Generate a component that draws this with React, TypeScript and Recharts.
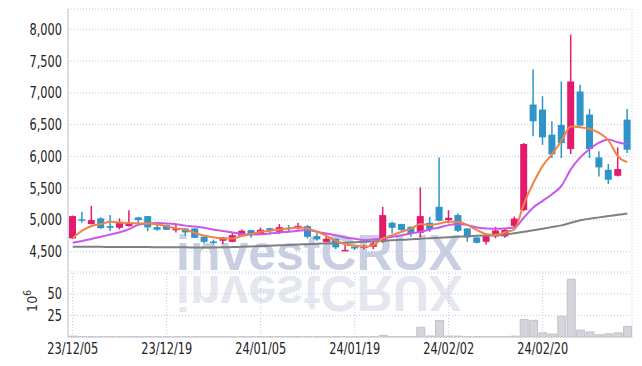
import React from "react";
import { ComposedChart, Bar, Line, XAxis, YAxis, CartesianGrid } from "recharts";

const dates = [
  "23/12/05", "23/12/06", "23/12/07", "23/12/08", "23/12/11", "23/12/12", "23/12/13", "23/12/14", "23/12/15", "23/12/18",
  "23/12/19", "23/12/20", "23/12/21", "23/12/22", "23/12/26", "23/12/27", "23/12/28", "24/01/02", "24/01/03", "24/01/04",
  "24/01/05", "24/01/08", "24/01/09", "24/01/10", "24/01/11", "24/01/12", "24/01/15", "24/01/16", "24/01/17", "24/01/18",
  "24/01/19", "24/01/22", "24/01/23", "24/01/24", "24/01/25", "24/01/26", "24/01/29", "24/01/30", "24/01/31", "24/02/01",
  "24/02/02", "24/02/05", "24/02/06", "24/02/07", "24/02/08", "24/02/13", "24/02/14", "24/02/15", "24/02/16", "24/02/19",
  "24/02/20", "24/02/21", "24/02/22", "24/02/23", "24/02/26", "24/02/27", "24/02/28", "24/02/29", "24/03/04", "24/03/05",
];

const tickDates = ["23/12/05", "23/12/19", "24/01/05", "24/01/19", "24/02/02", "24/02/20"];
const priceTicks = [4500, 5000, 5500, 6000, 6500, 7000, 7500, 8000];
const volumeTicks = [25, 50];

const opens = [
  4710, 5010, 4934, 5024, 4902, 4876, 4902, 5040, 5060, 4887,
  4918, 4845, 4866, 4866, 4734, 4660, 4671, 4655, 4750, 4840,
  4772, 4870, 4813, 4876, 4866, 4902, 4745, 4655, 4703, 4520,
  4577, 4560, 4576, 4655, 4955, 4934, 4890, 4797, 4955, 5206,
  4997, 5076, 4866, 4724, 4655, 4740, 4740, 4905, 5153, 6816,
  6737, 6342, 6495, 6116, 7021, 6658, 5984, 5789, 5695, 6579,
];
const highs = [
  5070, 5130, 5222, 5040, 5076, 5024, 5154, 5045, 5062, 4918,
  4925, 4918, 4870, 4870, 4740, 4690, 4730, 4790, 4850, 4845,
  4880, 4875, 4935, 4918, 4950, 4920, 4790, 4770, 4705, 4600,
  4600, 4610, 4660, 5206, 4970, 4940, 4900, 5512, 5050, 5984,
  5154, 5100, 4870, 4730, 4765, 4890, 4868, 5053, 6210, 7368,
  6947, 6553, 7179, 7916, 7126, 6747, 6079, 5879, 6142, 6747,
];
const lows = [
  4700, 4955, 4930, 4860, 4824, 4850, 4895, 4945, 4823, 4830,
  4840, 4800, 4750, 4715, 4630, 4610, 4620, 4650, 4735, 4718,
  4765, 4780, 4780, 4825, 4850, 4708, 4670, 4650, 4540, 4515,
  4525, 4540, 4540, 4640, 4787, 4813, 4734, 4724, 4813, 4980,
  4945, 4808, 4655, 4630, 4614, 4710, 4720, 4890, 5140, 6316,
  6180, 5974, 5974, 6037, 6484, 5974, 5684, 5563, 5684, 6053,
];
const closes = [
  5060, 4990, 4997, 4870, 4876, 4961, 4945, 4998, 4882, 4845,
  4845, 4860, 4803, 4718, 4655, 4645, 4724, 4760, 4829, 4760,
  4845, 4835, 4887, 4855, 4907, 4734, 4693, 4703, 4567, 4528,
  4550, 4590, 4630, 5076, 4876, 4840, 4787, 5060, 4855, 4986,
  5033, 4829, 4724, 4640, 4745, 4833, 4842, 5021, 6195, 6553,
  6300, 6032, 6210, 7179, 6484, 6116, 5826, 5632, 5800, 6105,
];
// volume in millions
const volumes = [
  1.0, 0.4, 0.4, 0.3, 0.3, 0.3, 0.4, 0.3, 0.3, 0.3,
  0.3, 0.3, 0.3, 0.3, 0.3, 0.3, 0.3, 0.3, 0.3, 0.3,
  0.3, 0.3, 0.3, 0.3, 0.3, 0.3, 0.3, 0.3, 0.4, 0.4,
  0.3, 0.3, 0.4, 1.9, 0.5, 0.4, 0.4, 11.2, 1.2, 19.2,
  1.1, 1.0, 0.5, 0.4, 0.4, 0.5, 0.6, 1.0, 20.3, 19.3,
  4.8, 3.4, 24.0, 66.8, 8.0, 5.9, 2.6, 3.7, 4.8, 12.2,
];
const ma5 = [
  4712, 4830, 4905, 4934, 4970, 4960, 4950, 4945, 4945, 4929,
  4902, 4866, 4850, 4795, 4750, 4726, 4708, 4708, 4750, 4776,
  4813, 4829, 4850, 4866, 4882, 4866, 4813, 4750, 4671, 4614,
  4597, 4576, 4603, 4708, 4760, 4813, 4866, 4934, 4918, 4945,
  4970, 4970, 4918, 4840, 4776, 4766, 4805, 4853, 5253, 5580,
  5850, 6037, 6247, 6470, 6458, 6430, 6370, 6250, 6000, 5910,
];
const ma20 = [
  4640, 4668, 4700, 4735, 4770, 4805, 4855, 4925, 4945, 4950,
  4945, 4932, 4910, 4895, 4875, 4845, 4825, 4803, 4780, 4771,
  4776, 4787, 4803, 4813, 4829, 4840, 4813, 4787, 4760, 4724,
  4703, 4682, 4693, 4708, 4734, 4760, 4787, 4813, 4850, 4882,
  4918, 4934, 4918, 4882, 4866, 4860, 4866, 4879, 5037, 5195,
  5300, 5405, 5537, 5800, 5984, 6116, 6215, 6265, 6221, 6190,
];
const ma60 = [
  4577, 4577, 4576, 4576, 4575, 4575, 4574, 4573, 4572, 4571,
  4570, 4569, 4568, 4567, 4566, 4566, 4568, 4572, 4577, 4582,
  4588, 4594, 4600, 4606, 4612, 4618, 4624, 4630, 4636, 4642,
  4648, 4655, 4662, 4670, 4678, 4686, 4694, 4705, 4712, 4720,
  4728, 4736, 4743, 4750, 4755, 4760, 4772, 4790, 4812, 4838,
  4862, 4888, 4914, 4955, 4995, 5020, 5040, 5060, 5080, 5100,
];

const data = dates.map((date, i) => ({
  date,
  range: [lows[i], highs[i]],
  open: opens[i],
  close: closes[i],
  high: highs[i],
  low: lows[i],
  volume: volumes[i],
  ma5: ma5[i],
  ma20: ma20[i],
  ma60: ma60[i],
}));

const UP = "#e31b6d";
const DOWN = "#2f95c8";
const GRID = "#c4c8dc";
const FRAME = "#c8c8d0";
const FONT = "'DejaVu Sans Condensed', 'DejaVu Sans', sans-serif";

// axis text is narrower than any installed font, so squeeze it a bit
function YTick(props: any) {
  const { x, y, payload } = props;
  return (
    <text
      transform={`translate(${x},${y}) scale(0.84,1)`}
      dy="0.36em"
      textAnchor="end"
      fontSize={15}
      fill="#222"
      fontFamily={FONT}
    >
      {Number(payload.value).toLocaleString("en-US")}
    </text>
  );
}

function XTick(props: any) {
  const { x, y, payload } = props;
  return (
    <text
      transform={`translate(${x},${y}) scale(0.84,1)`}
      dy="0.72em"
      textAnchor="middle"
      fontSize={15}
      fill="#222"
      fontFamily={FONT}
    >
      {payload.value}
    </text>
  );
}

function Candle(props: any) {
  const { x, y, width, height, payload } = props;
  if (x == null || y == null) return null;
  const { open, close, high, low } = payload;
  const color = close >= open ? UP : DOWN;
  const h = Math.abs(height);
  const top0 = height < 0 ? y + height : y;
  const ratio = high === low ? 0 : h / (high - low);
  const yOf = (v: number) => top0 + (high - v) * ratio;
  const cx = x + width / 2;
  const bodyTop = yOf(Math.max(open, close));
  const bodyBot = yOf(Math.min(open, close));
  return (
    <g>
      <line x1={cx} x2={cx} y1={top0} y2={top0 + h} stroke={color} strokeWidth={1.5} />
      <rect x={x} y={bodyTop} width={width} height={Math.max(bodyBot - bodyTop, 1.5)} fill={color} />
    </g>
  );
}

const volumeLabel = () => (
  <text transform="translate(29,28) rotate(-90)" textAnchor="middle" fontSize={14} fill="#333" fontFamily={FONT}>
    10<tspan dy={-6} fontSize={10}>6</tspan>
  </text>
);

export default function App() {
  return (
    <div style={{ position: "relative", width: 634, height: 358 }}>
      <svg width={634} height={358} style={{ position: "absolute", left: 0, top: 0 }}>
        <text x={168} y={262} fontSize={50} fontWeight="bold" fontFamily="'Liberation Sans', Arial, sans-serif" fill="#c9cfe3">
          investCRUX
        </text>
        <text
          x={168}
          y={262}
          fontSize={50}
          fontWeight="bold"
          fontFamily="'Liberation Sans', Arial, sans-serif"
          fill="#e4e7ef"
          transform="translate(0,530) scale(1,-1)"
        >
          investCRUX
        </text>
      </svg>
      <div style={{ position: "relative" }}>
        <ComposedChart width={634} height={265} data={data} margin={{ top: 1, right: 10, bottom: 1, left: 0 }}>
          <CartesianGrid stroke={GRID} strokeDasharray="1 2" />
          <XAxis dataKey="date" ticks={tickDates} interval={0} tick={false} height={0} tickLine={false} axisLine={{ stroke: FRAME }} />
          <XAxis xAxisId="top" orientation="top" dataKey="date" tick={false} height={0} tickLine={false} axisLine={{ stroke: "#dcdce2" }} />
          <YAxis
            domain={[4180, 8320]}
            allowDataOverflow
            ticks={priceTicks}
            interval={0}
            width={60}
            tickLine={false}
            tickSize={4}
            tickMargin={2}
            axisLine={{ stroke: FRAME }}
            tick={<YTick />}
          />
          <YAxis yAxisId="r" orientation="right" width={0} tick={false} tickLine={false} axisLine={{ stroke: "#dcdce2" }} />
          <Bar dataKey="range" barSize={7} shape={<Candle />} isAnimationActive={false} />
          <Line dataKey="ma60" type="monotone" stroke="#808080" strokeWidth={2} dot={false} isAnimationActive={false} />
          <Line dataKey="ma20" type="monotone" stroke="#c957ea" strokeWidth={2} dot={false} isAnimationActive={false} />
          <Line dataKey="ma5" type="monotone" stroke="#ef8446" strokeWidth={2} dot={false} isAnimationActive={false} />
        </ComposedChart>
        <ComposedChart width={634} height={93} data={data} margin={{ top: 0, right: 10, bottom: 0, left: 0 }}>
          <CartesianGrid stroke={GRID} strokeDasharray="1 2" />
          <XAxis
            dataKey="date"
            ticks={tickDates}
            interval={0}
            height={29}
            tickLine={false}
            tickSize={4}
            tickMargin={2}
            axisLine={{ stroke: FRAME }}
            tick={<XTick />}
          />
          <YAxis
            domain={[0, 74]}
            allowDataOverflow
            ticks={volumeTicks}
            interval={0}
            width={60}
            tickLine={false}
            tickSize={4}
            tickMargin={2}
            axisLine={{ stroke: FRAME }}
            tick={<YTick />}
            label={volumeLabel}
          />
          <YAxis yAxisId="r" orientation="right" width={0} tick={false} tickLine={false} axisLine={{ stroke: "#dcdce2" }} />
          <Bar dataKey="volume" barSize={8} fill="#d4d4da" stroke="#c2c2ca" isAnimationActive={false} />
        </ComposedChart>
      </div>
    </div>
  );
}
